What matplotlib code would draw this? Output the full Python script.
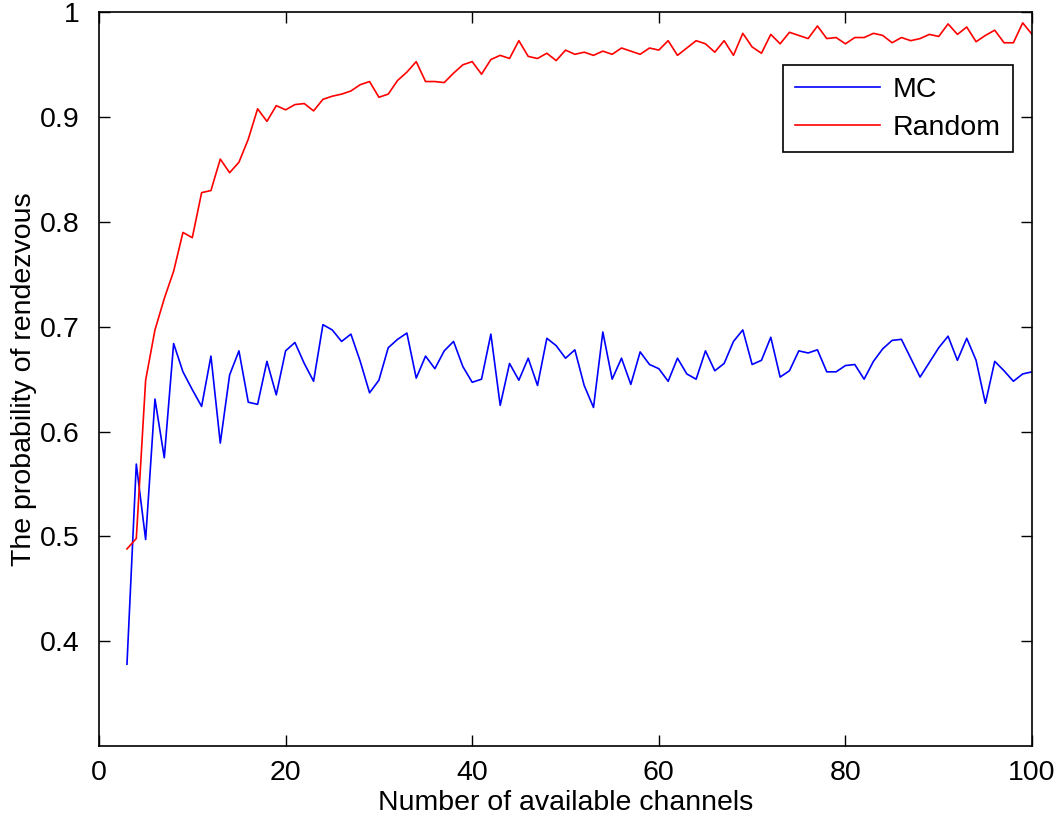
import matplotlib
matplotlib.use("Agg")
import matplotlib.pyplot as plt

# Werte (Kanaele 3..100)
channels = list(range(3, 101))

mc = [0.378, 0.569, 0.497, 0.631, 0.575, 0.684, 0.657, 0.640, 0.624, 0.672,
      0.589, 0.654, 0.677, 0.628, 0.626, 0.667, 0.635, 0.677, 0.685, 0.665,
      0.648, 0.702, 0.697, 0.686, 0.693, 0.667, 0.637, 0.649, 0.680, 0.688,
      0.694, 0.651, 0.672, 0.660, 0.677, 0.686, 0.662, 0.647, 0.650, 0.693,
      0.625, 0.665, 0.649, 0.670, 0.644, 0.689, 0.682, 0.670, 0.678, 0.644,
      0.623, 0.695, 0.650, 0.670, 0.645, 0.676, 0.664, 0.660, 0.648, 0.670,
      0.655, 0.650, 0.677, 0.658, 0.665, 0.686, 0.697, 0.664, 0.668, 0.690,
      0.652, 0.658, 0.677, 0.675, 0.678, 0.657, 0.657, 0.663, 0.664, 0.650,
      0.667, 0.679, 0.687, 0.688, 0.670, 0.652, 0.666, 0.680, 0.691, 0.668,
      0.689, 0.668, 0.627, 0.667, 0.658, 0.648, 0.655, 0.657]

rnd = [0.488, 0.498, 0.649, 0.697, 0.727, 0.753, 0.790, 0.785, 0.828, 0.830,
       0.860, 0.847, 0.857, 0.879, 0.908, 0.896, 0.911, 0.907, 0.912, 0.913,
       0.906, 0.917, 0.920, 0.922, 0.925, 0.931, 0.934, 0.919, 0.922, 0.935,
       0.943, 0.953, 0.934, 0.934, 0.933, 0.942, 0.950, 0.953, 0.941, 0.955,
       0.959, 0.956, 0.973, 0.958, 0.956, 0.961, 0.954, 0.964, 0.960, 0.962,
       0.959, 0.963, 0.960, 0.966, 0.963, 0.960, 0.966, 0.964, 0.973, 0.959,
       0.966, 0.973, 0.970, 0.962, 0.973, 0.959, 0.980, 0.967, 0.961, 0.979,
       0.970, 0.981, 0.978, 0.975, 0.987, 0.975, 0.976, 0.970, 0.976, 0.976,
       0.980, 0.978, 0.971, 0.976, 0.973, 0.975, 0.979, 0.977, 0.989, 0.979,
       0.986, 0.972, 0.978, 0.983, 0.971, 0.971, 0.990, 0.979]

x_ticks = [0, 20, 40, 60, 80, 100]
y_ticks = [0.4, 0.5, 0.6, 0.7, 0.8, 0.9, 1.0]
y_tick_labels = ["0.4", "0.5", "0.6", "0.7", "0.8", "0.9", "1"]

plt.rcParams['font.family'] = ['Liberation Sans', 'DejaVu Sans']
plt.rcParams['font.size'] = 20.5

fig = plt.figure(figsize=(10.62, 8.25), dpi=100)
ax = fig.add_axes([0.0932, 0.0958, 0.8786, 0.8892])

ax.plot(channels, mc, color="#0000ff", linewidth=1.2, label="MC")
ax.plot(channels, rnd, color="#ff0000", linewidth=1.2, label="Random")

ax.set_xlim(0, 100)
ax.set_ylim(0.3, 1.0)
ax.set_xticks(x_ticks)
ax.set_yticks(y_ticks)
ax.set_yticklabels(y_tick_labels)
ax.tick_params(direction="in", length=8, width=1, top=True, right=True)
ax.tick_params(axis="x", pad=10)
ax.tick_params(axis="y", pad=14)
for s in ax.spines.values():
    s.set_linewidth(1.2)

ax.set_xlabel("Number of available channels", labelpad=3)
ax.set_ylabel("The probability of rendezvous", labelpad=2)

leg = ax.legend(loc="upper right", bbox_to_anchor=(0.9796, 0.928), borderaxespad=0,
                fancybox=False, edgecolor="black", framealpha=1, handlelength=3.0,
                handletextpad=0.45, borderpad=0.42, labelspacing=0.4)
leg.get_frame().set_linewidth(1.2)

fig.savefig("out.png", dpi=100)
